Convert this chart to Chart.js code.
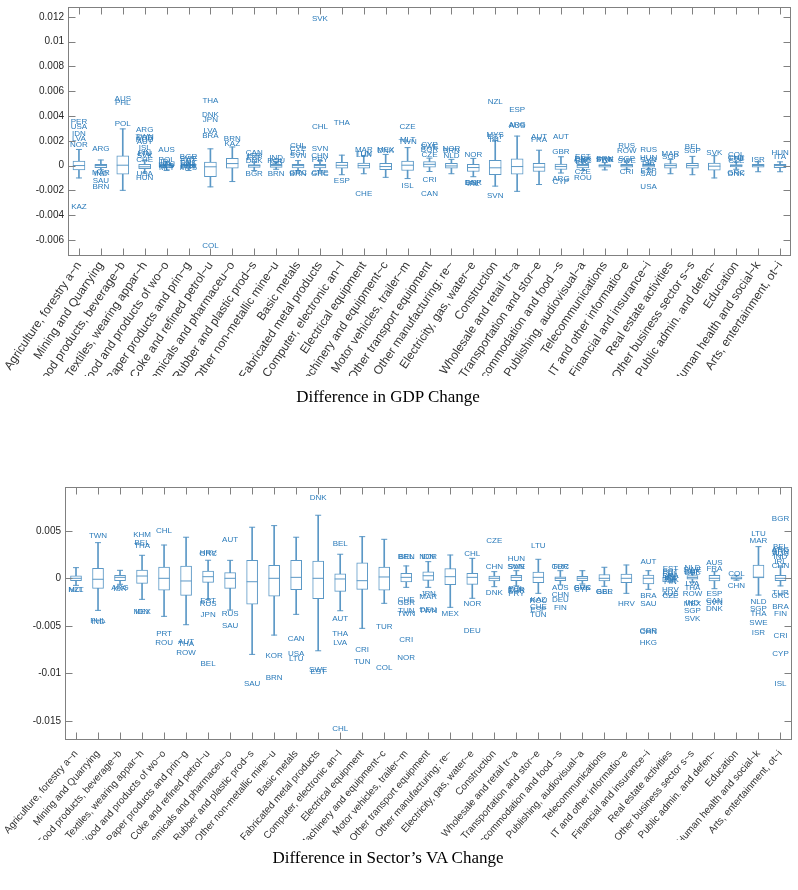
<!DOCTYPE html>
<html>
<head>
<meta charset="utf-8">
<script src="https://cdn.jsdelivr.net/npm/chart.js@4.4.1/dist/chart.umd.min.js"></script>
<style>
  body { margin: 0; background: #fff; overflow: hidden; }
  #wrap { position: relative; width: 798px; height: 890px; }
  canvas { position: absolute; left: 0; }
  #gdpChart { top: 0; }
  #vaChart { top: 430px; }
  .title { position: absolute; left: 0; width: 776px; text-align: center;
           font: 17px "Liberation Serif", serif; line-height: 20px; color: #000; }
</style>
</head>
<body>
<div id="wrap">
  <canvas id="gdpChart" width="798" height="410"></canvas>
  <div class="title" style="top:387px;">Difference in GDP Change</div>
  <canvas id="vaChart" width="798" height="460"></canvas>
  <div class="title" style="top:848px;">Difference in Sector’s VA Change</div>
</div>
<script>
// ═══ 데이터 ═══
const sectors = [
    'Agriculture, forestry a~n', 'Mining and Quarrying', 'Food products, beverage~b',
    'Textiles, wearing appar~h', 'Wood and products of wo~o', 'Paper products and prin~g',
    'Coke and refined petrol~u', 'Chemicals and pharmaceu~o', 'Rubber and plastic prod~s',
    'Other non-metallic mine~u', 'Basic metals', 'Fabricated metal products',
    'Computer, electronic an~l', 'Electrical equipment', 'Machinery and equipment~c',
    'Motor vehicles, trailer~m', 'Other transport equipment', 'Other manufacturing; re~',
    'Electricity, gas, water~e', 'Construction', 'Wholesale and retail tr~a',
    'Transportation and stor~e', 'Accommodation and food ~s', 'Publishing, audiovisual~a',
    'Telecommunications', 'IT and other informatio~e', 'Financial and insurance~i',
    'Real estate activities', 'Other business sector s~s', 'Public admin. and defen~',
    'Education', 'Human health and social~k', 'Arts, entertainment, ot~i'
];

// GDP 패널 (whisker low, q1, median, q3, whisker high)
const gdpLow  = [-0.0010, -0.00034, -0.0020, -0.0006, -0.0004, -0.0004, -0.00172, -0.00129, -0.0004, -0.0003, -0.0004,
                 -0.0004, -0.00074, -0.00066, -0.00095, -0.00105, -0.00048, -0.00066, -0.0009, -0.00166, -0.00208, -0.00153,
                 -0.0006, -0.0004, -0.00035, -0.0003, -0.0003, -0.00066, -0.00074, -0.001, -0.0003, -0.0005, -0.0005];
const gdpQ1   = [-0.00036, -0.00016, -0.00069, -0.00026, -0.0002, -0.0002, -0.0009, -0.00021, -0.00015, -0.00015, -0.0002,
                 -0.0002, -0.00021, -0.00021, -0.00034, -0.0004, -0.00013, -0.00021, -0.00048, -0.00074, -0.00069, -0.00048,
                 -0.00032, -0.0002, -0.00013, -0.00013, -0.00013, -0.00021, -0.00021, -0.00037, -0.0001, -0.00013, -0.00016];
const gdpMed  = [0, 0, 0.00003, -0.0001, 0, 0, -0.0001, 0.00016, 0, 0, 0,
                 0, 0.00002, 0, -0.00008, 0.00003, 0.0001, -0.00003, -0.00016, -0.00018, -0.00008, -0.00013,
                 -0.00008, 0, 0, 0, 0, 0, 0, -0.00005, 0, 0, 0];
const gdpQ3   = [0.00037, 0.0001, 0.00079, 0.0001, 0.0001, 0.0001, 0.00029, 0.00058, 0.00008, 0.0001, 0.0001,
                 0.0001, 0.00026, 0.00021, 0.00018, 0.00037, 0.00032, 0.00018, 0.0001, 0.00042, 0.00055, 0.00018,
                 0.00013, 0.0001, 0.00008, 0.0001, 0.0001, 0.00016, 0.00018, 0.00021, 0.00008, 0.0001, 0.0001];
const gdpHigh = [0.0013, 0.00045, 0.00296, 0.0004, 0.0003, 0.0003, 0.00135, 0.0015, 0.0003, 0.0003, 0.0004,
                 0.0004, 0.00084, 0.00077, 0.0009, 0.00145, 0.0006, 0.0005, 0.00058, 0.00203, 0.00238, 0.00124,
                 0.00071, 0.0003, 0.00025, 0.0003, 0.0002, 0.0005, 0.00074, 0.0008, 0.0003, 0.0003, 0.0003];
const gdpOutliers = [
    [['PER', 0.0035], ['USA', 0.0031], ['IDN', 0.0026], ['LVA', 0.00216], ['NOR', 0.00169], ['KAZ', -0.00333]],
    [['ARG', 0.00137], ['MAR', -0.00062], ['IND', -0.00068], ['SAU', -0.00119], ['BRN', -0.00172]],
    [['AUS', 0.0054], ['PHL', 0.00507], ['POL', 0.00335]],
    [['ARG', 0.00288], ['TWN', 0.0023], ['KOR', 0.00222], ['ROU', 0.0021], ['AUT', 0.0019], ['ISL', 0.00145],
     ['FIN', 0.001], ['LTU', 0.00092], ['SVK', 0.00077], ['CHE', 0.00045], ['USA', -0.00069], ['HUN', -0.001]],
    [['AUS', 0.00129], ['POL', 0.0005], ['IRL', 0.00028], ['DEU', 0.0001], ['NLD', -0.00005], ['MLT', -0.0002]],
    [['BGR', 0.00071], ['SWE', 0.00058], ['EST', 0.0004], ['DNK', 0.00024], ['FRA', 0], ['PRT', -0.0001], ['MYS', -0.0002]],
    [['THA', 0.00523], ['DNK', 0.00412], ['JPN', 0.0037], ['LVA', 0.00283], ['BRA', 0.00243], ['COL', -0.00644]],
    [['BRN', 0.00216], ['KAZ', 0.00177]],
    [['CAN', 0.00105], ['ISR', 0.0008], ['ESP', 0.0006], ['DNK', 0.00042], ['BGR', -0.00069]],
    [['IND', 0.0006], ['ROU', 0.00037], ['ISR', 0.00028], ['BRN', -0.00069]],
    [['CHL', 0.00158], ['CYP', 0.00135], ['EST', 0.00103], ['SVN', 0.00079], ['GRC', -0.00055], ['BRN', -0.00066]],
    [['SVK', 0.01188], ['CHL', 0.00309], ['SVN', 0.00137], ['CHN', 0.00079], ['PRY', 0.0005], ['CHE', -0.0006], ['GRC', -0.00068]],
    [['THA', 0.00348], ['ESP', -0.00119]],
    [['MAR', 0.00124], ['TUN', 0.00098], ['LUX', 0.00088], ['CHE', -0.0023]],
    [['MEX', 0.00124], ['DNK', 0.0012]],
    [['CZE', 0.00317], ['MLT', 0.00211], ['TWN', 0.0019], ['ISL', -0.00161]],
    [['CYP', 0.00169], ['SWE', 0.0015], ['BGR', 0.00128], ['CZE', 0.00087], ['CRI', -0.00113], ['CAN', -0.00224]],
    [['NOR', 0.00137], ['BRN', 0.0012], ['NLD', 0.00077]],
    [['NOR', 0.0009], ['DNK', -0.00136], ['ESP', -0.0014], ['IRL', -0.00145]],
    [['NZL', 0.00515], ['MYS', 0.00251], ['EST', 0.00235], ['ISL', 0.0021], ['SVN', -0.00248]],
    [['ESP', 0.00454], ['ARG', 0.00333], ['AUS', 0.00322]],
    [['AUT', 0.0023], ['FRA', 0.00208]],
    [['AUT', 0.00235], ['GBR', 0.00111], ['ARG', -0.00105], ['CYP', -0.00135]],
    [['EST', 0.00071], ['DNK', 0.00058], ['CYP', 0.00048], ['GRC', 0.0004], ['LTU', 0.0003], ['CZE', -0.0005], ['ROU', -0.00095]],
    [['BRN', 0.00058], ['SWE', 0.0005], ['FRA', 0.00045]],
    [['RUS', 0.00156], ['ROW', 0.00116], ['SGP', 0.00058], ['SWE', 0.0004], ['CRI', -0.00048]],
    [['RUS', 0.00129], ['HUN', 0.00066], ['SVN', 0.00045], ['ISR', 0.00026], ['ESP', -0.00045], ['SAU', -0.00063], ['USA', -0.00169]],
    [['MAR', 0.00092], ['SGP', 0.00071]],
    [['BEL', 0.0015], ['SGP', 0.00119]],
    [['SVK', 0.00105]],
    [['COL', 0.0009], ['CHE', 0.00066], ['LTU', 0.00058], ['CZE', 0.0004], ['GRC', -0.00058], ['DNK', -0.00064]],
    [['ISR', 0.0005]],
    [['HUN', 0.00105], ['ITA', 0.00071]]
];

// 부문 VA 패널
const vaLow  = [-0.00074, -0.00337, -0.00063, -0.00221, -0.004, -0.00488, -0.00221, -0.00334, -0.008, -0.00597, -0.00379,
                -0.00762, -0.00341, -0.00526, -0.00263, -0.00095, -0.00095, -0.00305, -0.0021, -0.00088, -0.0008, -0.00158,
                -0.0007, -0.0006, -0.00084, -0.00158, -0.00116, -0.0004, -0.0004, -0.00109, -0.0002, -0.00176, -0.0008];
const vaQ1   = [-0.00025, -0.00105, -0.00025, -0.00053, -0.00126, -0.00179, -0.00042, -0.00105, -0.00271, -0.00189, -0.0012,
                -0.00214, -0.00137, -0.00116, -0.00126, -0.00039, -0.00021, -0.00067, -0.00063, -0.00028, -0.00025, -0.00046,
                -0.00025, -0.00025, -0.00028, -0.00046, -0.0006, -0.0002, -0.0001, -0.00028, -0.0001, 0.00005, -0.00025];
const vaMed  = [0, -0.0001, 0.0001, 0.00024, 0, -0.00028, 0.00017, 0, -0.00036, 0, 0.0001,
                0, -0.00007, -0.00025, 0.00014, 0.0001, 0.00027, 0.00017, 0.0001, 0, 0.0001, 0.0001,
                0, 0, 0, 0, 0, 0, 0.00007, 0, 0, 0.00012, 0];
const vaQ3   = [0.00027, 0.00105, 0.0003, 0.00087, 0.00119, 0.00129, 0.00077, 0.00059, 0.00189, 0.00137, 0.00189,
                0.00182, 0.00048, 0.00164, 0.00119, 0.00053, 0.00069, 0.00101, 0.00053, 0.00024, 0.0003, 0.00066,
                0.00015, 0.0002, 0.0004, 0.00045, 0.00035, 0.0002, 0.00028, 0.00032, 0.00015, 0.0014, 0.0003];
const vaHigh = [0.00112, 0.00375, 0.00084, 0.00242, 0.0035, 0.00432, 0.0019, 0.00189, 0.00537, 0.00554, 0.00432,
                0.00663, 0.00253, 0.00438, 0.0041, 0.0013, 0.00175, 0.00245, 0.0021, 0.0007, 0.0008, 0.002,
                0.0008, 0.0008, 0.00116, 0.0014, 0.0008, 0.0004, 0.0006, 0.0007, 0.0003, 0.00333, 0.0012];
const vaOutliers = [
    [['NZL', -0.00126], ['MLT', -0.00122]],
    [['TWN', 0.00445], ['PHL', -0.0045], ['IND', -0.00455]],
    [['ARG', -0.00105], ['ISR', -0.0011]],
    [['KHM', 0.00459], ['BEL', 0.00375], ['THA', 0.0034], ['MEX', -0.00351], ['IDN', -0.00356]],
    [['CHL', 0.00501], ['PRT', -0.00583], ['ROU', -0.00678]],
    [['AUT', -0.00667], ['THA', -0.00688], ['ROW', -0.00783]],
    [['HRV', 0.0027], ['GRC', 0.00262], ['EST', -0.00236], ['RUS', -0.00271], ['JPN', -0.00379], ['BEL', -0.00902]],
    [['AUT', 0.0041], ['RUS', -0.00376], ['SAU', -0.00499]],
    [['SAU', -0.01105]],
    [['KOR', -0.0081], ['BRN', -0.01042]],
    [['CAN', -0.00636], ['USA', -0.0079], ['LTU', -0.0085]],
    [['DNK', 0.00845], ['SWE', -0.00965], ['EST', -0.00986]],
    [['BEL', 0.00364], ['AUT', -0.00421], ['THA', -0.00586], ['LVA', -0.00678], ['CHL', -0.01586]],
    [['CRI', -0.00747], ['TUN', -0.00881]],
    [['TUR', -0.00505], ['COL', -0.00937]],
    [['BEL', 0.00221], ['BRN', 0.00221], ['CHE', -0.00228], ['GBR', -0.0026], ['TUN', -0.00337], ['TWN', -0.00372],
     ['CRI', -0.00646], ['NOR', -0.00832]],
    [['NOR', 0.00221], ['IDN', 0.00226], ['JPN', -0.00158], ['MAR', -0.0019], ['DEU', -0.00335], ['TWN', -0.00337]],
    [['MEX', -0.00376]],
    [['CHL', 0.00253], ['NOR', -0.00263], ['DEU', -0.00551]],
    [['CZE', 0.00396], ['CHN', 0.00122], ['DNK', -0.00155]],
    [['HUN', 0.0021], ['SVN', 0.00126], ['SWE', 0.00118], ['POL', -0.00109], ['TUR', -0.00125], ['BGR', -0.00135], ['PRY', -0.00168]],
    [['LTU', 0.00337], ['KAZ', -0.00221], ['ROU', -0.0024], ['CHE', -0.00299], ['ESP', -0.00335], ['TUN', -0.00386]],
    [['TUR', 0.00126], ['GRC', 0.00118], ['AUS', -0.00105], ['CHN', -0.00176], ['DEU', -0.00228], ['FIN', -0.00305]],
    [['SVK', -0.00095], ['GRC', -0.001], ['CYP', -0.0012]],
    [['BEL', -0.00141], ['GBR', -0.00145]],
    [['HRV', -0.00263]],
    [['AUT', 0.00175], ['BRA', -0.00183], ['SAU', -0.00267], ['GBR', -0.00552], ['CHN', -0.00558], ['HKG', -0.00674]],
    [['EST', 0.00095], ['PRT', 0.00072], ['PHL', 0.00049], ['BRA', 0.0003], ['IRL', 0.00007], ['DNK', -0.00016],
     ['FIN', -0.0004], ['HRV', -0.00117], ['AUS', -0.0016], ['CZE', -0.0018]],
    [['NLD', 0.00108], ['SWE', 0.0009], ['DNK', 0.00066], ['BEL', 0.0006], ['LVA', -0.0006], ['THA', -0.00105],
     ['ROW', -0.00158], ['IND', -0.00253], ['MEX', -0.0027], ['SGP', -0.00337], ['SVK', -0.00425]],
    [['AUS', 0.00168], ['FRA', 0.00105], ['ESP', -0.00158], ['CAN', -0.0024], ['SVN', -0.0026], ['DNK', -0.00323]],
    [['COL', 0.00052], ['CHN', -0.00078]],
    [['LTU', 0.00463], ['MAR', 0.00396], ['NLD', -0.00246], ['SGP', -0.00316], ['THA', -0.00368], ['SWE', -0.00467], ['ISR', -0.00568]],
    [['BGR', 0.00624], ['BEL', 0.00333], ['ARG', 0.00305], ['BRN', 0.0028], ['AUS', 0.00255], ['IND', 0.0023],
     ['IRL', 0.00175], ['CHN', 0.00133], ['TUR', -0.0015], ['GRC', -0.0018], ['BRA', -0.00299], ['FIN', -0.00376],
     ['CRI', -0.00604], ['CYP', -0.00797], ['ISL', -0.01114]]
];

// ═══ 스타일 ═══
const BOX_COLOR   = '#5b98c6';
const LABEL_COLOR = '#2b7bba';
const AXIS_COLOR  = '#808080';
const NO_PAD      = () => ({ left: 0, right: 0, top: 0, bottom: 0 });
Chart.defaults.font.family = '"Liberation Sans", Arial, sans-serif';

/**
 * 박스 프레임 + 안쪽 눈금 (MATLAB 스타일)
 */
const frameTicks = {
    id: 'frameTicks',
    afterDraw(chart) {
        const { ctx, chartArea: a, scales: { x, y } } = chart;
        const L = Math.round(a.left) + 0.5, R = Math.round(a.right) - 0.5;
        const T = Math.round(a.top) + 0.5,  B = Math.round(a.bottom) - 0.5;
        ctx.save();
        ctx.strokeStyle = AXIS_COLOR;
        ctx.lineWidth = 1;
        ctx.strokeRect(L, T, R - L, B - T);
        ctx.beginPath();
        x.ticks.forEach((t, i) => {
            const px = Math.round(x.getPixelForTick(i)) + 0.5;
            ctx.moveTo(px, B); ctx.lineTo(px, B - 7);
            ctx.moveTo(px, T); ctx.lineTo(px, T + 7);
        });
        y.ticks.forEach(t => {
            const py = Math.round(y.getPixelForValue(t.value)) + 0.5;
            ctx.moveTo(L, py); ctx.lineTo(L + 7, py);
            ctx.moveTo(R, py); ctx.lineTo(R - 7, py);
        });
        ctx.stroke();
        ctx.restore();
    }
};

// 이상치 국가 코드 라벨
function _outlierPlugin(outliers) {
    return {
        id: 'outlierLabels',
        afterDatasetsDraw(chart) {
            const { ctx, scales: { x, y } } = chart;
            ctx.save();
            ctx.font = '8px "Liberation Sans", Arial, sans-serif';
            ctx.fillStyle = LABEL_COLOR;
            ctx.textAlign = 'center';
            ctx.textBaseline = 'middle';
            outliers.forEach((list, i) => {
                list.forEach(([code, v]) => {
                    ctx.fillText(code, x.getPixelForValue(i), y.getPixelForValue(v));
                });
            });
            ctx.restore();
        }
    };
}

function _boxDatasets(low, q1, med, q3, high, boxWidth) {
    const pt = (data, r) => ({
        type: 'line', data, showLine: false, pointStyle: 'line',
        pointRadius: r, pointHoverRadius: r, pointBorderColor: BOX_COLOR,
        pointBackgroundColor: BOX_COLOR, pointBorderWidth: 1, order: 1
    });
    return [
        pt(med, boxWidth / 2),
        pt(high, 3),
        pt(low, 3),
        {
            type: 'bar', data: q1.map((v, i) => [v, q3[i]]), barThickness: boxWidth,
            backgroundColor: '#ffffff', borderColor: BOX_COLOR, borderWidth: 1,
            borderSkipped: false, grouped: false, order: 2
        },
        {
            type: 'bar', data: low.map((v, i) => [v, high[i]]), barThickness: 1,
            backgroundColor: BOX_COLOR, borderWidth: 0, grouped: false, order: 3
        }
    ];
}

function makeBoxChart(id, cfg) {
    const ctx = document.getElementById(id).getContext('2d');
    return new Chart(ctx, {
        type: 'bar',
        data: { labels: sectors, datasets: _boxDatasets(cfg.low, cfg.q1, cfg.med, cfg.q3, cfg.high, cfg.boxWidth) },
        options: {
            responsive: false,
            animation: false,
            events: [],
            layout: { padding: cfg.padding },
            plugins: { legend: { display: false }, tooltip: { enabled: false } },
            scales: {
                x: {
                    offset: true,
                    grid: { display: false, drawTicks: false },
                    border: { display: false },
                    ticks: {
                        autoSkip: false, minRotation: cfg.rotation, maxRotation: cfg.rotation,
                        font: { size: cfg.xFont }, color: '#333', padding: cfg.xPad
                    },
                    afterFit: s => { s.height = cfg.xHeight; s.getPadding = NO_PAD; }
                },
                y: {
                    min: cfg.yMin, max: cfg.yMax,
                    grid: { display: false, drawTicks: false },
                    border: { display: false },
                    ticks: {
                        stepSize: cfg.yStep, includeBounds: false,
                        font: { size: 10 }, color: '#262626', padding: 4,
                        callback: v => String(parseFloat(Number(v).toFixed(4)))
                    },
                    afterFit: s => { s.width = cfg.yWidth; s.getPadding = NO_PAD; }
                }
            }
        },
        plugins: [frameTicks, _outlierPlugin(cfg.outliers)]
    });
}

makeBoxChart('gdpChart', {
    low: gdpLow, q1: gdpQ1, med: gdpMed, q3: gdpQ3, high: gdpHigh, outliers: gdpOutliers,
    boxWidth: 12, yMin: -0.0073, yMax: 0.0128, yStep: 0.002,
    yWidth: 68, xHeight: 120, rotation: 56, xFont: 12, xPad: 3,
    padding: { top: 2, right: 2, left: 0, bottom: 34 }
});

makeBoxChart('vaChart', {
    low: vaLow, q1: vaQ1, med: vaMed, q3: vaQ3, high: vaHigh, outliers: vaOutliers,
    boxWidth: 11, yMin: -0.017, yMax: 0.0096, yStep: 0.005,
    yWidth: 65, xHeight: 100, rotation: 49, xFont: 10, xPad: 8,
    padding: { top: 57, right: 5, left: 0, bottom: 50 }
});
</script>
</body>
</html>
